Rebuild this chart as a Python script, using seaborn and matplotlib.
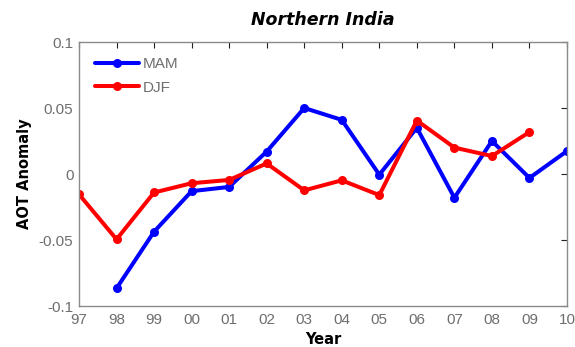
import numpy as np
import pandas as pd
import matplotlib
matplotlib.use("Agg")
import matplotlib.pyplot as plt
import seaborn as sns

years = [1997, 1998, 1999, 2000, 2001, 2002, 2003, 2004, 2005, 2006, 2007, 2008, 2009, 2010]
year_labels = ["97", "98", "99", "00", "01", "02", "03", "04", "05", "06", "07", "08", "09", "10"]

mam_years = years[1:]
mam = [-0.0866, -0.0437, -0.013, -0.0098, 0.017, 0.050, 0.041, -0.0005, 0.035, -0.018, 0.025, -0.003, 0.0174]

djf_years = years[:13]
djf = [-0.0154, -0.0495, -0.014, -0.007, -0.0045, 0.008, -0.0124, -0.0048, -0.016, 0.0405, 0.020, 0.0136, 0.0318]

season_order = ["MAM", "DJF"]
season_colors = ["#0000ff", "#ff0000"]

df = pd.concat([
    pd.DataFrame({"year": mam_years, "aot": mam, "season": "MAM"}),
    pd.DataFrame({"year": djf_years, "aot": djf, "season": "DJF"}),
], ignore_index=True)

sns.set_style("white")
plt.rcParams["font.family"] = ["Liberation Sans", "DejaVu Sans"]

fig = plt.figure(figsize=(5.75, 3.47), dpi=100)
ax = fig.add_axes([79 / 575, 1 - 306 / 347, (567 - 79) / 575, (306 - 42) / 347])

sns.lineplot(data=df, x="year", y="aot", hue="season", hue_order=season_order,
             palette=season_colors, marker="o", markersize=6.5, markeredgewidth=0,
             linewidth=2.9, ax=ax, legend=True, sort=True)

ax.set_xlim(1997, 2010)
ax.set_ylim(-0.1, 0.1)
ax.set_xticks(years)
ax.set_xticklabels(year_labels)
ax.set_yticks([-0.1, -0.05, 0, 0.05, 0.1])
ax.set_yticklabels(["-0.1", "-0.05", "0", "0.05", "0.1"])

tick_gray = "#6e6e6e"
ax.tick_params(axis="both", direction="in", length=4, width=0.8, color="#222222",
               labelsize=11, labelcolor=tick_gray, top=True, right=True, pad=4)
ax.tick_params(axis="x", pad=5)
for s in ax.spines.values():
    s.set_color("#8a8a8a")
    s.set_linewidth(1.0)

label_font = dict(family=["DejaVu Sans"], fontsize=10.5, fontweight="bold", color="black")
ax.set_xlabel("Year", labelpad=4, **label_font)
ax.set_ylabel("AOT Anomaly", labelpad=5, **label_font)
ax.set_title("Northern India", family=["DejaVu Sans"], fontsize=12.5, fontweight="bold",
             fontstyle="italic", color="black", pad=12)

leg = ax.legend(loc="upper left", frameon=False, fontsize=11, handlelength=2.9,
                handletextpad=0.2, labelspacing=0.62, borderaxespad=0.5,
                bbox_to_anchor=(0.005, 0.995))
for t in leg.get_texts():
    t.set_color(tick_gray)

fig.savefig("out.png", dpi=100)
